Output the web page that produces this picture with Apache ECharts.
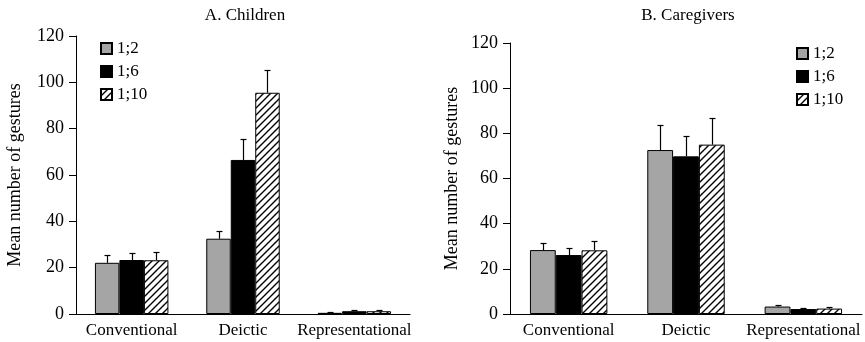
<!DOCTYPE html>
<html>
<head>
<meta charset="utf-8">
<script src="https://cdn.jsdelivr.net/npm/echarts@6/dist/echarts.min.js"></script>
<style>
html, body { margin: 0; padding: 0; background: #fff; }
#chart { width: 865px; height: 342px; }
</style>
</head>
<body>
<div id="chart"></div>
<script>
// categories and age groups
var categories = ['Conventional', 'Deictic', 'Representational'];
var ages = ['1;2', '1;6', '1;10'];
var yTicks = [0, 20, 40, 60, 80, 100, 120];

// A. Children - means and error (above the mean)
var childMean12 = [22.1, 32.5, 0.5];
var childMean16 = [23.3, 66.5, 1.2];
var childMean110 = [23.2, 95.5, 1.2];
var childErr12 = [3.2, 3.5, 0.3];
var childErr16 = [3.0, 8.9, 0.5];
var childErr110 = [3.4, 9.9, 0.6];

// B. Caregivers
var careMean12 = [28.3, 72.6, 3.3];
var careMean16 = [26.1, 69.8, 2.2];
var careMean110 = [28.2, 75.0, 2.4];
var careErr12 = [3.3, 11.0, 0.9];
var careErr16 = [3.1, 8.9, 0.6];
var careErr110 = [4.3, 11.8, 0.6];

var FONT = '"Liberation Serif", "DejaVu Serif", serif';

// hatch pattern ////
var hatch = document.createElement('canvas');
hatch.width = 7; hatch.height = 7;
var hc = hatch.getContext('2d');
hc.fillStyle = '#fff';
hc.fillRect(0, 0, 7, 7);
hc.strokeStyle = '#000';
hc.lineWidth = 1.4;
hc.beginPath();
hc.moveTo(-1, 8); hc.lineTo(8, -1);
hc.moveTo(-1, 1); hc.lineTo(1, -1);
hc.moveTo(6, 8); hc.lineTo(8, 6);
hc.stroke();

var fills = ['#a5a5a5', '#000000', { image: hatch, repeat: 'repeat' }];
var BARW = 0.22;

function errRender(offset) {
    return function (params, api) {
        var cat = api.value(0), val = api.value(1), err = api.value(2);
        var base = api.coord([cat, val]);
        var top = api.coord([cat, val + err]);
        var band = api.size([1, 0])[0];
        var x = Math.round(base[0] + offset * band * BARW) + 0.5;
        var yt = Math.round(top[1]) + 0.5;
        var st = { stroke: '#000', lineWidth: 1.2 };
        return {
            type: 'group',
            children: [
                { type: 'line', shape: { x1: x, y1: base[1], x2: x, y2: yt }, style: st },
                { type: 'line', shape: { x1: x - 3, y1: yt, x2: x + 3, y2: yt }, style: st }
            ]
        };
    };
}

function buildSeries(idx, means, errs) {
    var out = [];
    for (var i = 0; i < means.length; i++) {
        out.push({
            name: ages[i],
            type: 'bar',
            xAxisIndex: idx, yAxisIndex: idx,
            barWidth: (BARW * 100) + '%',
            barGap: '0%',
            itemStyle: { color: fills[i], borderColor: '#000', borderWidth: 1 },
            data: means[i],
            z: 2
        });
    }
    for (var j = 0; j < means.length; j++) {
        var d = [];
        for (var k = 0; k < categories.length; k++) d.push([k, means[j][k], errs[j][k]]);
        out.push({
            type: 'custom',
            xAxisIndex: idx, yAxisIndex: idx,
            renderItem: errRender(j - 1),
            encode: { x: 0, y: 1 },
            data: d,
            z: 3,
            silent: true
        });
    }
    return out;
}

function xAxis(idx) {
    return {
        type: 'category', gridIndex: idx, data: categories,
        axisLine: { lineStyle: { color: '#000', width: 1 } },
        axisTick: { show: false },
        axisLabel: { color: '#000', fontFamily: FONT, fontSize: 17, margin: 8, interval: 0, hideOverlap: false }
    };
}

function yAxis(idx, gap) {
    return {
        type: 'value', gridIndex: idx, min: 0, max: 120, interval: 20,
        name: 'Mean number of gestures', nameLocation: 'middle', nameRotate: 90, nameGap: gap,
        nameTextStyle: { color: '#000', fontFamily: FONT, fontSize: 18 },
        axisLine: { show: true, lineStyle: { color: '#000', width: 1 } },
        axisTick: { show: true, length: 7, lineStyle: { color: '#000' } },
        splitLine: { show: false },
        axisLabel: {
            color: '#000', fontFamily: FONT, fontSize: 18, margin: 12,
            formatter: function (v) { return yTicks.indexOf(v) >= 0 ? String(v) : ''; }
        }
    };
}

function legend(left, top) {
    return {
        data: ages.map(function (a) { return { name: a }; }),
        orient: 'vertical', left: left, top: top,
        padding: 0,
        itemWidth: 11, itemHeight: 11, itemGap: 6,
        icon: 'rect',
        textStyle: { color: '#000', fontFamily: FONT, fontSize: 17 },
        selectedMode: false
    };
}

var chart = echarts.init(document.getElementById('chart'));
var series = buildSeries(0, [childMean12, childMean16, childMean110], [childErr12, childErr16, childErr110])
    .concat(buildSeries(1, [careMean12, careMean16, careMean110], [careErr12, careErr16, careErr110]));

chart.setOption({
    animation: false,
    backgroundColor: '#fff',
    title: [
        { text: 'A. Children', left: 240, top: 2, textAlign: 'center',
          textStyle: { color: '#000', fontFamily: FONT, fontSize: 17, fontWeight: 'normal' } },
        { text: 'B. Caregivers', left: 683, top: 2, textAlign: 'center',
          textStyle: { color: '#000', fontFamily: FONT, fontSize: 17, fontWeight: 'normal' } }
    ],
    legend: [legend(100, 40), legend(796, 45)],
    grid: [
        { left: 76, right: 455, top: 36, bottom: 28 },
        { left: 510, right: 3, top: 43, bottom: 28 }
    ],
    xAxis: [xAxis(0), xAxis(1)],
    yAxis: [yAxis(0, 52), yAxis(1, 49)],
    series: series
});
</script>
</body>
</html>
